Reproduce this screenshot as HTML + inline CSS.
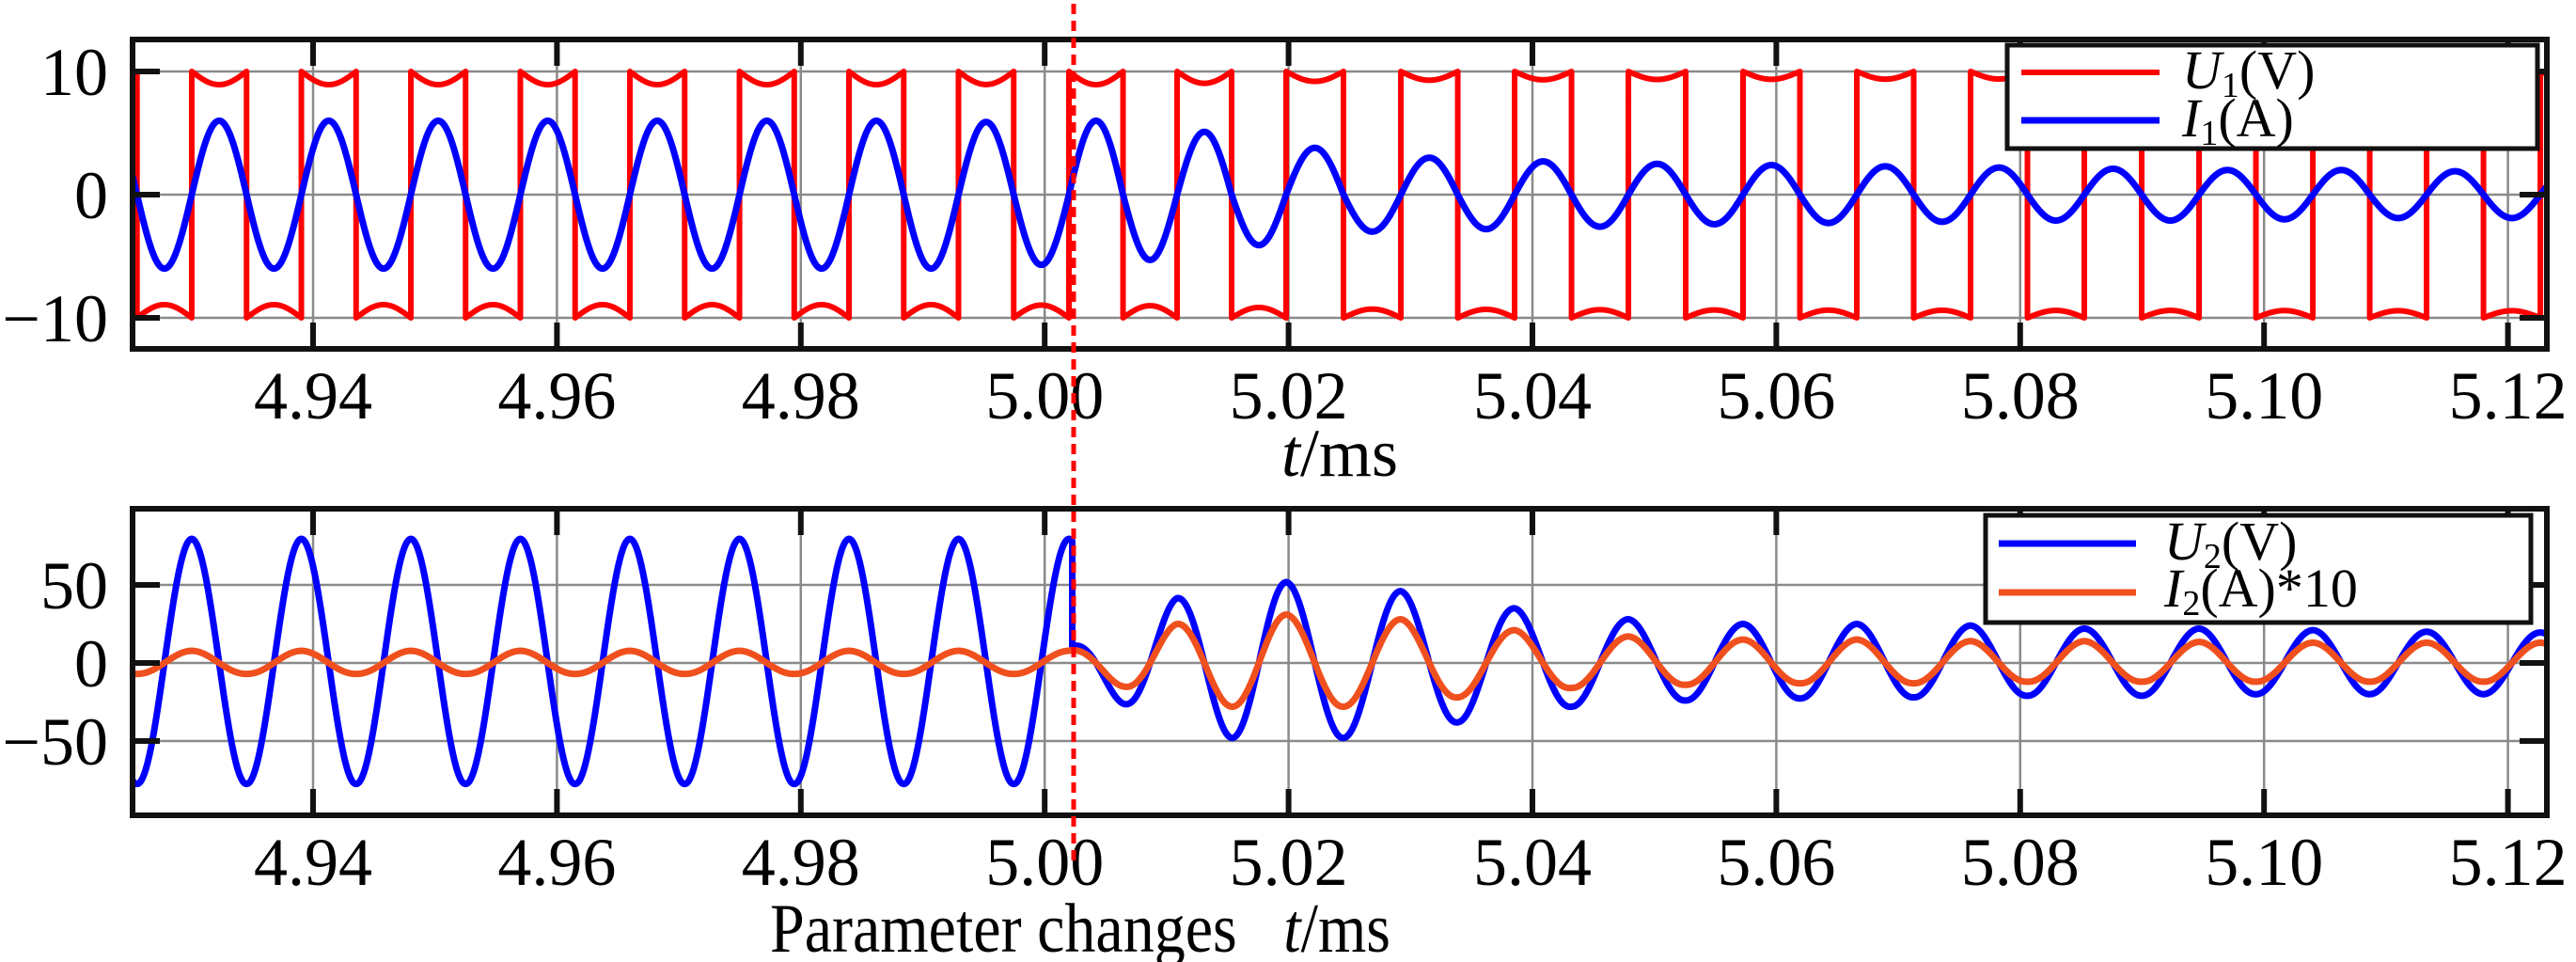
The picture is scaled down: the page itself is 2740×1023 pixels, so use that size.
<!DOCTYPE html>
<html><head><meta charset="utf-8">
<style>
html,body{margin:0;padding:0;background:#fff;}
svg{display:block;font-family:"Liberation Serif","Times New Roman",serif;}
</style></head>
<body>
<svg id="chart" width="2740" height="1023" viewBox="0 0 2740 1023" xmlns="http://www.w3.org/2000/svg">
<rect width="2740" height="1023" fill="#fff"/>
<g id="top"></g>
<g id="bot"></g>
<line x1="1142" y1="4" x2="1142" y2="922" stroke="#ff0000" stroke-width="5" stroke-dasharray="11,7"/>
<text x="1425" y="506" font-size="72" text-anchor="middle"><tspan font-style="italic">t</tspan>/ms</text>
<text x="819" y="1012" font-size="74" textLength="660" lengthAdjust="spacingAndGlyphs">Parameter changes&#160;&#160;&#160;<tspan font-style="italic">t</tspan>/ms</text>
<g>
<rect x="2135" y="48" width="564" height="110" fill="#fff" stroke="#111" stroke-width="5"/>
<line x1="2150" y1="77" x2="2297" y2="77" stroke="#ff0000" stroke-width="6"/>
<line x1="2150" y1="128" x2="2297" y2="128" stroke="#0000ff" stroke-width="7"/>
<text x="2321" y="94" font-size="58"><tspan font-style="italic">U</tspan><tspan font-size="38" dy="9">1</tspan><tspan dy="-9">(V)</tspan></text>
<text x="2321" y="145" font-size="58"><tspan font-style="italic">I</tspan><tspan font-size="38" dy="9">1</tspan><tspan dy="-9">(A)</tspan></text>
</g>
<g>
<rect x="2112" y="548" width="580" height="114" fill="#fff" stroke="#111" stroke-width="5"/>
<line x1="2126" y1="578" x2="2272" y2="578" stroke="#0000ff" stroke-width="7"/>
<line x1="2126" y1="630" x2="2272" y2="630" stroke="#f0501e" stroke-width="7"/>
<text x="2302" y="595" font-size="58"><tspan font-style="italic">U</tspan><tspan font-size="38" dy="9">2</tspan><tspan dy="-9">(V)</tspan></text>
<text x="2302" y="645" font-size="58"><tspan font-style="italic">I</tspan><tspan font-size="38" dy="9">2</tspan><tspan dy="-9">(A)*10</tspan></text>
</g>
</svg>
<script>
// ---- data ----
const xTicks = [4.94, 4.96, 4.98, 5.00, 5.02, 5.04, 5.06, 5.08, 5.10, 5.12];
const xTickLabels = ["4.94","4.96","4.98","5.00","5.02","5.04","5.06","5.08","5.10","5.12"];
const topYTicks = [-10, 0, 10];
const topYTickLabels = ["\u221210","0","10"];
const botYTicks = [-50, 0, 50];
const botYTickLabels = ["\u221250","0","50"];
// switching (rising edge) instants of U1, ms
const edges = [4.92107,4.93005,4.93904,4.94802,4.95700,4.96598,4.97497,4.98395,4.99293,5.00199,5.01086,5.01980,5.02921,5.03854,5.04787,5.05727,5.06660,5.07593,5.08526,5.09467,5.10400,5.11333,5.12266];
const changeTime = 5.00226;
// I1 amplitude per cycle (positive half / negative half), A
const i1Pos = [6,6,6,6,6,6,6,6,5.9,6.0,5.1,3.8,3.0,2.7,2.5,2.4,2.3,2.2,2.1,2.0,2.0,1.9,1.9];
const i1Neg = [6,6,6,6,6,6,6,6,5.7,5.3,4.1,3.0,2.8,2.6,2.4,2.3,2.2,2.1,2.1,2.0,1.9,1.9,1.9];
// U2 extremes: peaks at each edge, troughs mid-cycle (V)
const u2Peak = [79.5,79.5,79.5,79.5,79.5,79.5,79.5,79.5,79.5,79.5,41.5,51.8,46,35,28,25,25,24,22,22,21,20,19.5];
const u2Trough = [77.5,77.5,77.5,77.5,77.5,77.5,77.5,77.5,77.5,26,48,48,38,28,24,22.7,22,21,21,20,20,20,20];
const u2AfterChange = 11;
// I2*10 extremes
const i2Peak = [7.8,7.8,7.8,7.8,7.8,7.8,7.8,7.8,7.8,7.8,25,31,28,21,17,15,15,14,14,13.5,13,13,13];
const i2Trough = [7,7,7,7,7,7,7,7,7,15,28,28,22,16,14,13,13,12,12,12,12,12,12];

// ---- axes ----
const L = 141, R = 2709;
const x = t => 333 + (t - 4.94) * 12970;
const tMin = 4.94 + (L - 333) / 12970, tMax = 4.94 + (R - 333) / 12970;
const yTop = v => 207 - v * 13.1;
const yBot = v => 705 - v * 1.66;
const NS = "http://www.w3.org/2000/svg";
function mk(tag, attrs, parent){ const e = document.createElementNS(NS, tag); for (const k in attrs) e.setAttribute(k, attrs[k]); parent.appendChild(e); return e; }

function period(k){ const n = edges.length; if (k < 0) return edges[1]-edges[0]; if (k >= n-1) return edges[n-1]-edges[n-2]; return edges[k+1]-edges[k]; }
function cycleOf(t){
  let k = -1;
  for (let i = 0; i < edges.length; i++) if (edges[i] <= t) k = i;
  let start = k < 0 ? edges[0] - period(0) : edges[k];
  const u = (t - start) / period(k);
  return {k, u, start};
}
const get = (arr, k) => arr[Math.max(0, Math.min(arr.length-1, k))];
function i1(t){ const c = cycleOf(t); const s = Math.sin(2*Math.PI*c.u); return s * (c.u < 0.5 ? get(i1Pos,c.k) : get(i1Neg,c.k)); }
function u1(t){ const c = cycleOf(t); const sg = c.u < 0.5 ? 1 : -1; const a = Math.abs(i1(t)); return sg * (10 - 0.12*a - 0.35*Math.abs(Math.sin(2*Math.PI*c.u))); }
function envelope(t, peaks, troughs, jump){
  const c = cycleOf(t); const k = c.k; const P = period(k);
  const tp = c.start, tt = c.start + P/2, tn = c.start + P;
  if (jump !== undefined && changeTime > tp && changeTime < tt){
    if (t <= changeTime) return get(peaks,k);
    if (t < tt) return jump + (get(troughs,k)-jump)*(t-changeTime)/(tt-changeTime);
  }
  if (c.u < 0.5) return get(peaks,k) + (get(troughs,k)-get(peaks,k))*(t-tp)/(tt-tp);
  return get(troughs,k) + (get(peaks,k+1)-get(troughs,k))*(t-tt)/(tn-tt);
}
function u2(t){ const c = cycleOf(t); return envelope(t,u2Peak,u2Trough,u2AfterChange)*Math.cos(2*Math.PI*c.u); }
function i2(t){ const c = cycleOf(t); return envelope(t,i2Peak,i2Trough)*Math.cos(2*Math.PI*c.u); }

// sample times incl. switching instants
const times = [];
for (let px = L; px <= R; px += 0.5) times.push(4.94 + (px - 333)/12970);
edges.forEach((e,i)=>{ const h = e + period(i)/2; [e,h].forEach(s=>{ if (s>tMin && s<tMax){ times.push(s-1e-7); times.push(s+1e-7);} }); });
times.push(changeTime-1e-7, changeTime+1e-7);
times.sort((a,b)=>a-b);

function panel(g, top, bottom, yf, yTicks, yLabels, series){
  const grid = mk('g', {}, g);
  
  
  xTicks.forEach(t => { mk('line', {x1:x(t), x2:x(t), y1:top, y2:bottom, stroke:'#8a8a8a', 'stroke-width':2.5}, grid); });
  yTicks.forEach(v => { mk('line', {x1:L, x2:R, y1:yf(v), y2:yf(v), stroke:'#8a8a8a', 'stroke-width':2.5}, grid); });
  const clipId = 'clip' + top;
  const cp = mk('clipPath', {id:clipId}, g); mk('rect', {x:L, y:top, width:R-L, height:bottom-top}, cp);
  series.forEach(s => {
    let d = '';
    times.forEach((t,i) => { d += (i?'L':'M') + x(t).toFixed(2) + ' ' + yf(s.f(t)).toFixed(2); });
    const p = mk('path', {d, fill:'none', stroke:s.color, 'stroke-width':s.w, 'stroke-linejoin':'round', 'clip-path':'url(#'+clipId+')'}, g);
    
    
  });
  const ax = mk('g', {}, g);
  
  
  mk('rect', {x:L, y:top, width:R-L, height:bottom-top, fill:'none', stroke:'#111', 'stroke-width':6}, ax);
  xTicks.forEach(t => {
    mk('line', {x1:x(t), x2:x(t), y1:top, y2:top+28, stroke:'#111', 'stroke-width':6}, ax);
    mk('line', {x1:x(t), x2:x(t), y1:bottom, y2:bottom-28, stroke:'#111', 'stroke-width':6}, ax);
  });
  yTicks.forEach(v => {
    mk('line', {x1:L, x2:L+29, y1:yf(v), y2:yf(v), stroke:'#111', 'stroke-width':6}, ax);
    mk('line', {x1:R, x2:R-29, y1:yf(v), y2:yf(v), stroke:'#111', 'stroke-width':6}, ax);
  });
  xTickLabels.forEach((lab,i) => {
    const tx = mk('text', {x:x(xTicks[i]), y:bottom+74, 'font-size':72, 'text-anchor':'middle'}, g);
    tx.textContent = lab;
    
    
  });
  yLabels.forEach((lab,i) => {
    const tx = mk('text', {x:115, y:yf(yTicks[i])+25, 'font-size':72, 'text-anchor':'end'}, g);
    tx.textContent = lab;
    
    
  });
}
panel(document.getElementById('top'), 42, 371, yTop, topYTicks, topYTickLabels, [
  {name:'u1-line', f:u1, color:'#ff0000', w:6},
  {name:'i1-line', f:i1, color:'#0000ff', w:7}
]);
panel(document.getElementById('bot'), 541, 867, yBot, botYTicks, botYTickLabels, [
  {name:'u2-line', f:u2, color:'#0000ff', w:7},
  {name:'i2-line', f:i2, color:'#f0501e', w:7}
]);
const svg = document.getElementById('chart');
['top','bot'].forEach(id => svg.insertBefore(document.getElementById(id), svg.children[1]));
</script>
</body></html>
